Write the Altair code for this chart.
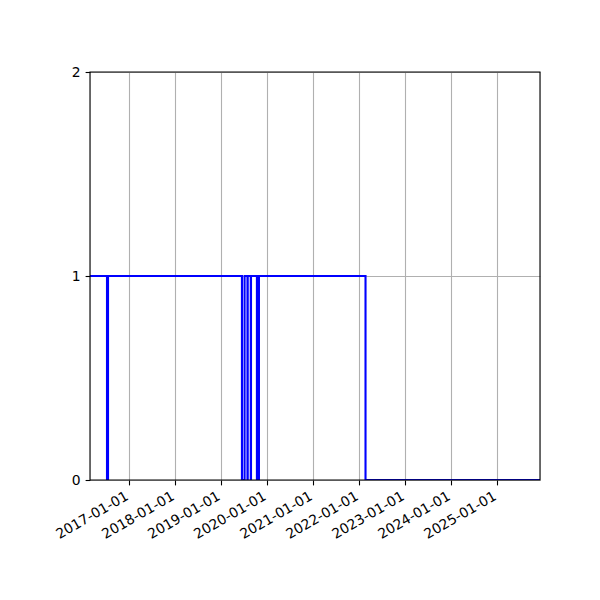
import altair as alt
import pandas as pd

# step series: date where the value changes, and the value from that date on
dates = [
    "2016-02-24", "2016-07-08", "2016-07-16",
    "2019-06-14", "2019-07-05",
    "2019-07-28", "2019-07-30",
    "2019-08-23", "2019-08-25",
    "2019-10-11", "2019-10-27",
    "2022-02-19", "2025-12-05",
]
values = [1, 0, 1, 0, 1, 0, 1, 0, 1, 0, 1, 0, 0]

tick_years = list(range(2017, 2026))
y_ticks = [0.0, 1.0, 2.0]

df = pd.DataFrame({"date": dates, "value": values})

W, H = 450, 408

x_axis = alt.Axis(
    values=[alt.DateTime(year=y, month=1, date=1, utc=True) for y in tick_years],
    labelExpr="utcFormat(datum.value, '%Y-%m-%d')",
    labelAngle=-30, labelAlign="right",
    labelBaseline="top", labelOffset=-6, labelPadding=4, labelOverlap=False,
    grid=True, gridColor="#b0b0b0", gridWidth=1.1, domain=False,
    tickColor="black", tickSize=4.9, tickWidth=1.1,
    labelColor="black", labelFont="DejaVu Sans", labelFontSize=13.9, title=None,
)
y_axis = alt.Axis(
    values=y_ticks, labelExpr="format(datum.value, 'd')", labelOverlap=False,
    grid=True, gridColor="#b0b0b0", gridWidth=1.1, domain=False,
    tickColor="black", tickSize=4.9, tickWidth=1.1, labelPadding=4.9,
    labelColor="black", labelFont="DejaVu Sans", labelFontSize=13.9, title=None,
)

line = alt.Chart(df).mark_line(
    interpolate="step-after", color="#0000ff", strokeWidth=2.1, clip=True
).encode(
    x=alt.X("date:T", axis=x_axis,
            scale=alt.Scale(type="utc", nice=False,
                            domain=[alt.DateTime(year=2016, month=2, date=24, utc=True),
                                    alt.DateTime(year=2025, month=12, date=5, utc=True)])),
    y=alt.Y("value:Q", axis=y_axis, scale=alt.Scale(domain=[0, 2], nice=False)),
)

frame = alt.Chart(alt.Data(values=[{}])).mark_rect(
    filled=False, stroke="black", strokeWidth=1.1
).encode(
    x=alt.value(0), x2=alt.value(W), y=alt.value(0), y2=alt.value(H)
)

chart = alt.layer(line, frame).properties(
    width=W, height=H,
    autosize=alt.AutoSizeParams(type="none"),
    padding={"left": 82, "top": 64, "right": 52, "bottom": 112},
).configure_view(stroke=None).configure(background="white")

chart.save("out.html", embed_options={"renderer": "svg", "actions": False})
